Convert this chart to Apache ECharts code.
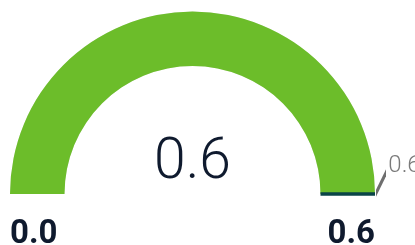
<!DOCTYPE html>
<html>
<head>
<meta charset="utf-8">
<script src="https://cdn.jsdelivr.net/npm/echarts@6/dist/echarts.min.js"></script>
<style>
  html, body { margin: 0; padding: 0; background: #fff; }
  #main { width: 415px; height: 245px; }
</style>
</head>
<body>
<div id="main"></div>
<script>
  // gauge data
  var gaugeMin = 0;
  var gaugeMax = 0.6;
  var values = [0.6];
  var targets = [0.6];

  var FONT = 'Roboto, "Noto Sans", sans-serif';
  var center = [192.5, 194];
  var radius = 182.5;
  var band = 54.5;

  function fmt(v) {
    return Number(v).toFixed(1);
  }

  var common = {
    type: 'gauge',
    center: center,
    radius: radius,
    startAngle: 180,
    endAngle: 0,
    min: gaugeMin,
    max: gaugeMax,
    splitNumber: 1,
    animation: false,
    axisTick: { show: false },
    splitLine: { show: false, length: 0, distance: 0 },
    title: { show: false },
    anchor: { show: false }
  };

  var chart = echarts.init(document.getElementById('main'));
  chart.setOption({
    series: [
      // main arc + value + min/max labels
      Object.assign({}, common, {
        axisLine: { lineStyle: { width: band, color: [[1, '#E6E6E6']] } },
        progress: { show: true, width: band, itemStyle: { color: '#6CBD2A' } },
        pointer: { show: false },
        axisLabel: {
          show: true,
          distance: 0,
          color: '#0F1A2E',
          fontFamily: FONT,
          // empty first line pushes the tick label under the arc ends
          formatter: function (v) {
            return '{gap| }\n{v|' + fmt(v) + '}';
          },
          rich: {
            gap: { height: 82, lineHeight: 82, fontSize: 10 },
            v: {
              color: '#0F1A2E',
              fontFamily: FONT,
              fontWeight: 'bold',
              fontSize: 33,
              lineHeight: 33
            }
          }
        },
        detail: {
          show: true,
          offsetCenter: [0, -30],
          color: '#0F1A2E',
          fontFamily: FONT,
          fontWeight: 300,
          fontSize: 57,
          formatter: fmt
        },
        data: values.map(function (v) { return { value: v }; })
      }),
      // target marker
      Object.assign({}, common, {
        axisLine: { show: false },
        axisLabel: { show: false },
        pointer: {
          show: true,
          icon: 'rect',
          length: band,
          width: 3.5,
          offsetCenter: [0, -(radius - band)]
        },
        itemStyle: { color: '#0A4447' },
        detail: { show: false },
        data: targets.map(function (v) { return { value: v }; })
      }),
      // target label with leader line
      Object.assign({}, common, {
        axisLine: { show: false },
        axisLabel: { show: false },
        pointer: {
          show: true,
          icon: 'path://M0 0L7 0L27.6 10L20.6 10Z',
          length: 10,
          width: 27.6,
          offsetCenter: [-11, -183.5]
        },
        itemStyle: { color: '#6E6E6E' },
        detail: {
          show: true,
          offsetCenter: [212, -28],
          color: '#7A7A7A',
          fontFamily: FONT,
          fontWeight: 300,
          fontSize: 24,
          formatter: fmt
        },
        data: targets.map(function (v) { return { value: v }; })
      })
    ]
  });
</script>
</body>
</html>
